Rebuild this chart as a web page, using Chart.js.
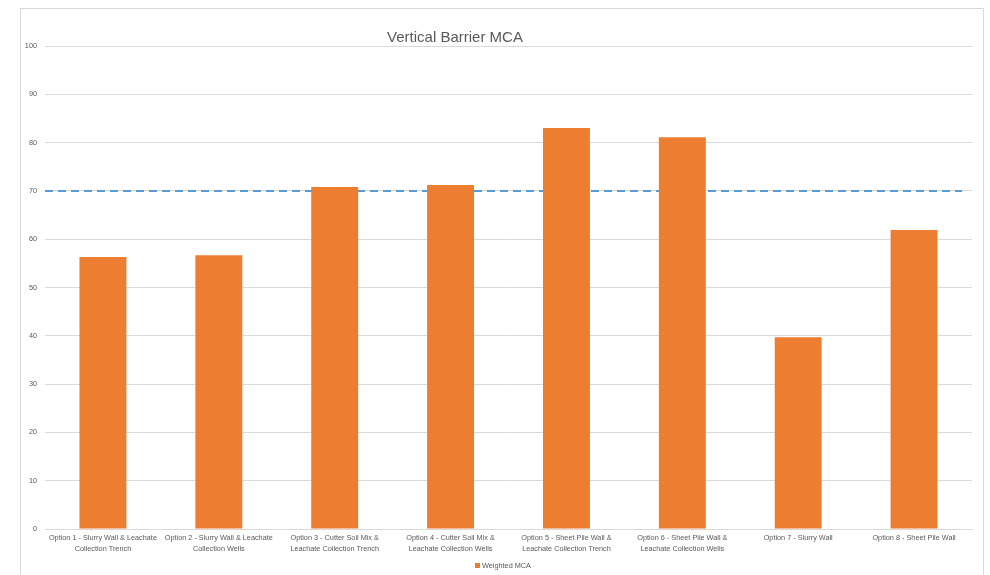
<!DOCTYPE html>
<html>
<head>
<meta charset="utf-8">
<script src="https://cdn.jsdelivr.net/npm/chart.js@4.4.0/dist/chart.umd.min.js"></script>
<style>
  html, body { margin: 0; padding: 0; background: #fff; }
  #wrap { position: relative; width: 990px; height: 575px; }
</style>
</head>
<body>
<div id="wrap"><canvas id="mca"></canvas></div>
<script>
var categories = [
    ["Option 1 - Slurry Wall & Leachate", "Collection Trench"],
    ["Option 2 - Slurry Wall & Leachate", "Collection Wells"],
    ["Option 3 - Cutter Soil Mix &", "Leachate Collection Trench"],
    ["Option 4 - Cutter Soil Mix &", "Leachate Collection Wells"],
    ["Option 5 - Sheet Pile Wall &", "Leachate Collection Trench"],
    ["Option 6 - Sheet Pile Wall &", "Leachate Collection Wells"],
    "Option 7 - Slurry Wall",
    "Option 8 - Sheet Pile Wall"
];
var weightedMCA = [56.3, 56.7, 70.8, 71.2, 83.0, 81.1, 39.7, 61.9];
var thresholdValue = 70;
var yTicks = [0, 10, 20, 30, 40, 50, 60, 70, 80, 90, 100];

var textGray = '#595959';
var fontFam = '"Liberation Sans", Arial, sans-serif';

// frame, title, legend and the 70 target line (behind the bars)
var excelBits = {
    id: 'excelBits',
    beforeDraw: function(chart) {
        var ctx = chart.ctx;
        ctx.save();
        ctx.fillStyle = '#fff';
        ctx.fillRect(0, 0, chart.width, chart.height);
        ctx.strokeStyle = '#d9d9d9';
        ctx.lineWidth = 1;
        ctx.strokeRect(20.5, 8.5, 963, 600);
        ctx.restore();
    },
    beforeDatasetsDraw: function(chart) {
        var ctx = chart.ctx;
        var area = chart.chartArea;
        var yPix = Math.round(chart.scales.y.getPixelForValue(thresholdValue));
        ctx.save();
        ctx.strokeStyle = '#5B9BD5';
        ctx.lineWidth = 2;
        ctx.setLineDash([8, 5]);
        ctx.beginPath();
        ctx.moveTo(area.left, yPix);
        ctx.lineTo(area.right - 10, yPix);
        ctx.stroke();
        ctx.restore();
    },
    afterDraw: function(chart) {
        var ctx = chart.ctx;
        var ds = chart.data.datasets[0];
        ctx.save();
        ctx.fillStyle = textGray;
        ctx.font = '15px ' + fontFam;
        ctx.textAlign = 'center';
        ctx.textBaseline = 'middle';
        ctx.fillText('Vertical Barrier MCA', 455, 38);

        // legend
        ctx.font = '7.3px ' + fontFam;
        ctx.textAlign = 'left';
        ctx.fillStyle = ds.backgroundColor;
        ctx.fillRect(475, 563, 5, 5);
        ctx.fillStyle = textGray;
        ctx.fillText(ds.label, 482, 566);
        ctx.restore();
    }
};

new Chart(document.getElementById('mca'), {
    type: 'bar',
    data: {
        labels: categories,
        datasets: [{
            label: 'Weighted MCA',
            data: weightedMCA,
            backgroundColor: '#ED7D31',
            barPercentage: 0.405,
            categoryPercentage: 1
        }]
    },
    options: {
        responsive: true,
        maintainAspectRatio: false,
        animation: false,
        layout: { padding: { left: 0, right: 18, top: 46, bottom: 14 } },
        plugins: {
            title: { display: false },
            legend: { display: false },
            tooltip: { enabled: false }
        },
        scales: {
            x: {
                grid: { display: false },
                border: { color: '#d9d9d9' },
                ticks: {
                    color: textGray,
                    font: { size: 7.3, family: fontFam, lineHeight: 1.45 },
                    maxRotation: 0,
                    autoSkip: false,
                    padding: -4
                },
                afterFit: function(scale) { scale.height = 32; }
            },
            y: {
                min: 0,
                max: 100,
                afterBuildTicks: function(scale) {
                    scale.ticks = yTicks.map(function(v) { return {value: v}; });
                },
                grid: { color: '#d9d9d9', drawTicks: false },
                border: { display: false },
                ticks: {
                    color: textGray,
                    font: { size: 7.3, family: fontFam },
                    padding: 8
                },
                afterFit: function(scale) { scale.width = 45; }
            }
        }
    },
    plugins: [excelBits]
});
</script>
</body>
</html>
